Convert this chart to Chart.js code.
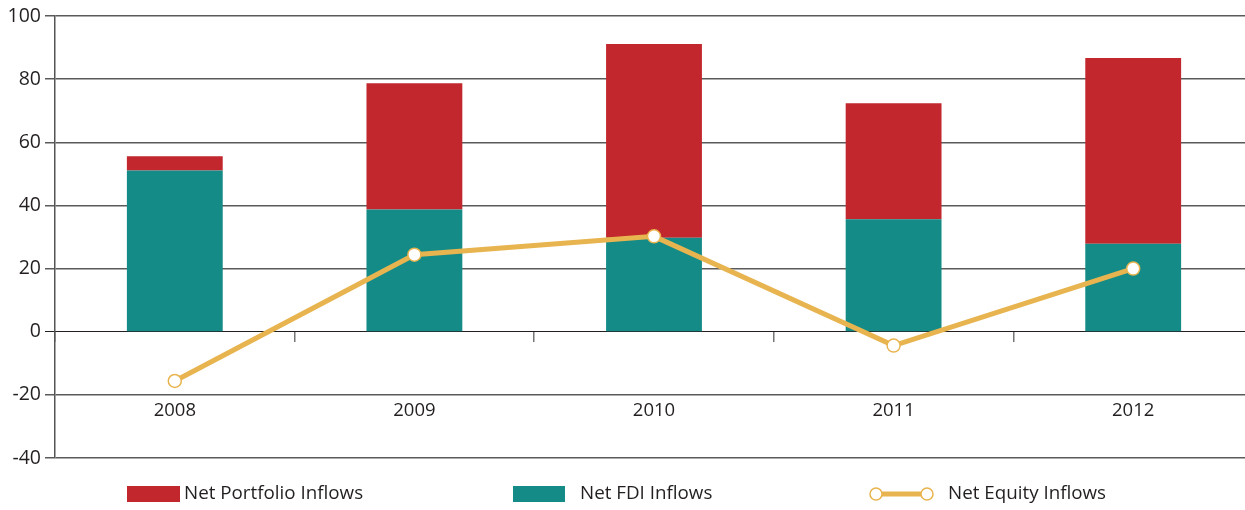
<!DOCTYPE html>
<html>
<head>
<meta charset="utf-8">
<script src="https://cdn.jsdelivr.net/npm/chart.js@4.4.0/dist/chart.umd.min.js"></script>
<style>
  html, body { margin: 0; padding: 0; background: #fff; overflow: hidden; }
</style>
</head>
<body>
<canvas id="chart" width="1261" height="510"></canvas>
<script>
// Data
const years = ['2008', '2009', '2010', '2011', '2012'];
const fdiInflows = [51.1, 38.7, 29.8, 35.6, 27.9];
const portfolioInflows = [4.5, 40.0, 61.3, 36.8, 58.8];
const equityInflows = [-15.6, 24.4, 30.2, -4.4, 20.0];
const yTicks = [100, 80, 60, 40, 20, 0, -20, -40];

const RED = '#c1272d';
const TEAL = '#148b87';
const GOLD = '#e8b44f';
const TEXT = '#231f20';
const FONT = "'Open Sans', 'DejaVu Sans', sans-serif";

// Legend drawn by hand under the plot
const legendPlugin = {
    id: 'bottomLegend',
    afterDraw(chart) {
        const ctx = chart.ctx;
        const ds = chart.data.datasets;
        const y = 494;
        ctx.save();
        ctx.font = '18.8px ' + FONT;
        ctx.textBaseline = 'middle';

        // Net Portfolio Inflows
        ctx.fillStyle = ds[1].backgroundColor;
        ctx.fillRect(127, 486, 53, 16);
        ctx.fillStyle = TEXT;
        ctx.fillText(ds[1].label, 184, y);

        // Net FDI Inflows
        ctx.fillStyle = ds[0].backgroundColor;
        ctx.fillRect(513, 486, 52, 16);
        ctx.fillStyle = TEXT;
        ctx.fillText(ds[0].label, 580, y);

        // Net Equity Inflows
        ctx.strokeStyle = ds[2].borderColor;
        ctx.lineWidth = 5;
        ctx.beginPath();
        ctx.moveTo(876, y);
        ctx.lineTo(927, y);
        ctx.stroke();
        ctx.lineWidth = 1.5;
        ctx.fillStyle = '#fff';
        [876, 927].forEach(cx => {
            ctx.beginPath();
            ctx.arc(cx, y, 6, 0, Math.PI * 2);
            ctx.fill();
            ctx.stroke();
        });
        ctx.fillStyle = TEXT;
        ctx.fillText(ds[2].label, 948, y);
        ctx.restore();
    }
};

new Chart(document.getElementById('chart'), {
    type: 'bar',
    data: {
        labels: years,
        datasets: [{
            label: 'Net FDI Inflows',
            data: fdiInflows,
            backgroundColor: TEAL,
            stack: 'bars',
            order: 1,
            barPercentage: 0.4,
            categoryPercentage: 1
        }, {
            label: 'Net Portfolio Inflows',
            data: portfolioInflows,
            backgroundColor: RED,
            stack: 'bars',
            order: 1,
            barPercentage: 0.4,
            categoryPercentage: 1
        }, {
            type: 'line',
            label: 'Net Equity Inflows',
            data: equityInflows,
            stack: 'line',
            order: 0,
            borderColor: GOLD,
            borderWidth: 5,
            pointRadius: 6.5,
            pointBorderWidth: 1.5,
            pointBackgroundColor: '#fff',
            pointBorderColor: GOLD,
            tension: 0
        }]
    },
    options: {
        responsive: false,
        animation: false,
        layout: { padding: { top: 16, bottom: 52, right: 0, left: 0 } },
        plugins: {
            legend: { display: false },
            tooltip: { enabled: false }
        },
        scales: {
            x: {
                position: { y: 0 },
                stacked: true,
                grid: {
                    offset: true,
                    drawOnChartArea: false,
                    tickLength: 10,
                    color: '#777',
                    lineWidth: 1.5
                },
                border: { color: TEXT, width: 1 },
                ticks: {
                    padding: 58,
                    color: TEXT,
                    font: { family: FONT, size: 18.5 }
                }
            },
            y: {
                stacked: true,
                min: -40,
                max: 100,
                afterFit(scale) { scale.width = 55; },
                afterBuildTicks(scale) {
                    scale.ticks = yTicks.map(v => ({ value: v }));
                },
                grid: {
                    color: ctx => ctx.tick && ctx.tick.value === 0 ? TEXT : '#5a5a5a',
                    lineWidth: ctx => ctx.tick && ctx.tick.value === 0 ? 1 : 1.5,
                    tickLength: 10
                },
                border: { color: '#555', width: 1.5 },
                ticks: {
                    padding: 4,
                    color: TEXT,
                    font: { family: FONT, size: 19.5 }
                }
            }
        }
    },
    plugins: [legendPlugin]
});
</script>
</body>
</html>
